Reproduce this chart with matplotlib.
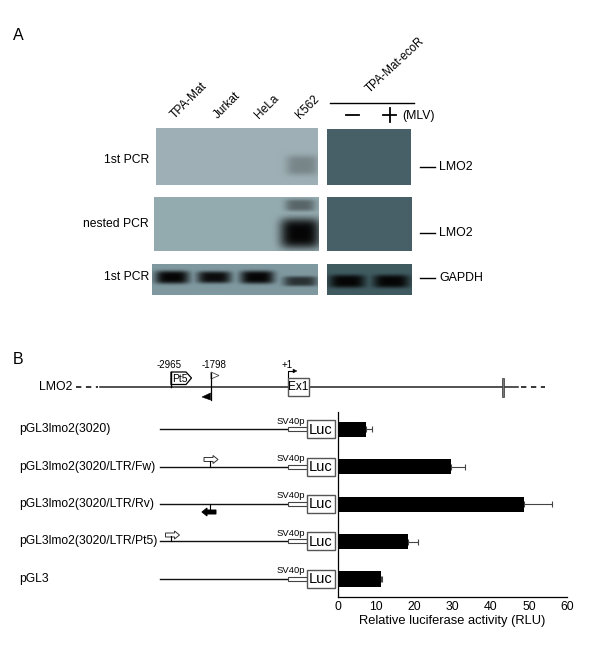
import matplotlib
matplotlib.use('Agg')
import matplotlib.pyplot as plt
from matplotlib.patches import FancyArrow, Polygon, Rectangle
import numpy as np

plt.rcParams['font.family'] = ['Liberation Sans', 'DejaVu Sans']

# bar chart values
constructs = ['pGL3lmo2(3020)', 'pGL3lmo2(3020/LTR/Fw)', 'pGL3lmo2(3020/LTR/Rv)',
              'pGL3lmo2(3020/LTR/Pt5)', 'pGL3']
rlu = [7.3, 29.6, 48.8, 18.3, 11.2]
rlu_err = [1.6, 3.6, 7.3, 2.6, 0.4]
rlu_ticks = [0, 10, 20, 30, 40, 50, 60]

lanes = ['TPA-Mat', 'Jurkat', 'HeLa', 'K562']
lane_x = [177, 220, 261, 302]

# gel panels: x0, x1, y0, y1, background grey-blue colour
gel_panels = [
    (156, 318, 128, 185, (0.62, 0.69, 0.71)),
    (154, 319, 197, 251, (0.58, 0.67, 0.69)),
    (152, 318, 264, 295, (0.50, 0.60, 0.63)),
    (327, 411, 129, 185, (0.28, 0.38, 0.41)),
    (327, 412, 197, 251, (0.28, 0.38, 0.41)),
    (327, 412, 264, 295, (0.25, 0.36, 0.38)),
]
# bands per panel: x centre, y centre, half width, half height, darkness
gel_bands = [
    [(302, 165, 16, 10, 0.25)],
    [(300, 205, 15, 6, 0.42), (300, 233, 20, 15, 1.0)],
    [(172, 277, 17, 6.5, 1.0), (214, 277, 17, 6, 0.95), (257, 277, 17, 6.5, 1.0),
     (300, 281, 17, 5, 0.7)],
    [],
    [],
    [(347, 281, 18, 6.5, 1.0), (391, 281, 18, 6.5, 1.0)],
]

line_ys = [429.3, 466.7, 504, 541.3, 578.7]


def gel_image(x0, x1, y0, y1, color, bands):
    xs, ys = np.meshgrid(np.arange(x0, x1, 0.5), np.arange(y0, y1, 0.5))
    dark = np.zeros_like(xs, dtype=float)
    for cx, cy, hw, hh, amount in bands:
        r = ((xs - cx) / hw) ** 4 + ((ys - cy) / hh) ** 4
        dark = np.maximum(dark, amount * np.exp(-r))
    img = np.dstack([c * (1 - dark) + 0.02 * dark for c in color])
    return img


fig = plt.figure(figsize=(6, 6.57), dpi=100)
ax = fig.add_axes([0, 0, 1, 1])
ax.axis('off')

for (x0, x1, y0, y1, color), bands in zip(gel_panels, gel_bands):
    ax.imshow(gel_image(x0, x1, y0, y1, color, bands), extent=(x0, x1, y1, y0),
              aspect='auto', interpolation='bilinear')
ax.set_xlim(0, 600)
ax.set_ylim(657, 0)

ax.text(13, 35, 'A', fontsize=11.5, va='center')
ax.text(13, 359, 'B', fontsize=11.5, va='center')

for name, x in zip(lanes, lane_x):
    ax.text(x, 121, name, fontsize=8.6, rotation=45, ha='left', va='bottom', rotation_mode='anchor')
ax.text(372, 95, 'TPA-Mat-ecoR', fontsize=8.3, rotation=43, ha='left', va='bottom', rotation_mode='anchor')
ax.plot([330, 414], [103, 103], color='black', lw=1)
ax.plot([346, 359], [115, 115], color='black', lw=1.3)
ax.plot([383, 396], [115, 115], color='black', lw=1.3)
ax.plot([389.5, 389.5], [108, 122], color='black', lw=1.3)
ax.text(402, 116, '(MLV)', fontsize=8.8, va='center')

for y, label in [(160, '1st PCR'), (224, 'nested PCR'), (277, '1st PCR')]:
    ax.text(149, y, label, fontsize=8.7, ha='right', va='center')
for y, label in [(167, 'LMO2'), (233, 'LMO2'), (278, 'GAPDH')]:
    ax.plot([420, 435], [y, y], color='black', lw=1)
    ax.text(439, y, label, fontsize=8.9, va='center')

# gene map
ax.text(39, 387, 'LMO2', fontsize=8.8, va='center')
ax.plot([76, 98], [387, 387], color='black', lw=1.1, dashes=(3.5, 3))
ax.plot([100, 518], [387, 387], color='#222222', lw=1.1)
ax.plot([521, 545], [387, 387], color='black', lw=1.1, dashes=(3.5, 3))
ax.add_patch(Rectangle((501.5, 378), 2.4, 19, fc='#777777', ec='#333333', lw=0.5, zorder=3))

ax.text(169, 365, '-2965', fontsize=7, ha='center', va='center')
ax.text(214, 365, '-1798', fontsize=7, ha='center', va='center')
ax.text(287, 365, '+1', fontsize=7, ha='center', va='center')

ax.add_patch(Polygon([(171, 372), (186, 372), (191.5, 378), (186, 384.5), (171, 384.5)],
                     fc='white', ec='black', lw=0.9, zorder=3))
ax.plot([171, 171], [372, 387], color='black', lw=1, zorder=3)
ax.text(172.5, 378.5, 'Pt5', fontsize=7.5, va='center', zorder=4)

ax.plot([210.5, 210.5], [373, 400], color='black', lw=0.9)
ax.add_patch(Polygon([(211, 372), (219, 375.5), (211, 379)], fc='white', ec='#444444', lw=0.6))
ax.add_patch(Polygon([(210.5, 393), (202, 397), (210.5, 400)], fc='black', ec='black', lw=0.4))

ax.add_patch(Rectangle((288, 378), 21, 18, fc='white', ec='#555555', lw=1, zorder=3))
ax.text(298.5, 387.5, 'Ex1', fontsize=8.5, ha='center', va='center', zorder=4)
ax.plot([288, 288, 293], [378, 371, 371], color='black', lw=0.8)
ax.add_patch(Polygon([(293, 369), (297, 371), (293, 373)], fc='black', ec='black', lw=0.3))

# constructs
for name, y in zip(constructs, line_ys):
    ax.text(19, y, name, fontsize=8.7, va='center')
    ax.plot([160, 288], [y, y], color='#111111', lw=1)
    ax.add_patch(Rectangle((287.5, y - 2), 19, 4, fc='white', ec='#444444', lw=0.8, zorder=3))
    ax.add_patch(Rectangle((306.5, y - 9), 28.5, 18, fc='white', ec='#555555', lw=1, zorder=3))
    ax.text(320.5, y + 0.5, 'Luc', fontsize=10.5, ha='center', va='center', zorder=4)
    ax.text(291, y - 8, 'SV40p', fontsize=6.8, ha='center', va='center', zorder=4)

# LTR arrows
ax.plot([210, 210], [461, 467], color='black', lw=0.8)
ax.add_patch(FancyArrow(204, 459.5, 14, 0, width=4, head_width=8, head_length=5,
                        length_includes_head=True, fc='white', ec='#333333', lw=0.7))
ax.plot([210, 210], [504, 510], color='black', lw=0.8)
ax.add_patch(FancyArrow(216, 512, -14, 0, width=4, head_width=8, head_length=5,
                        length_includes_head=True, fc='black', ec='black', lw=0.7))
ax.plot([171, 171], [536, 541], color='black', lw=0.8)
ax.add_patch(FancyArrow(165.5, 535, 14, 0, width=4, head_width=8, head_length=5,
                        length_includes_head=True, fc='white', ec='#333333', lw=0.7))

# bar chart
W, H = 600.0, 657.0
bar_ax = fig.add_axes([338 / W, 1 - 597 / H, 229 / W, (597 - 411.5) / H])
bar_ax.patch.set_alpha(0)
positions = np.arange(len(constructs))
bar_ax.barh(positions, rlu, height=0.41, color='black',
            xerr=[np.zeros(len(rlu)), rlu_err],
            error_kw=dict(ecolor='#444444', elinewidth=0.8, capsize=2, capthick=0.8))
bar_ax.set_xlim(0, 60)
bar_ax.set_ylim(4.48, -0.477)
bar_ax.set_yticks([])
bar_ax.set_xticks(rlu_ticks)
bar_ax.tick_params(axis='x', length=0, pad=3, labelsize=8.8)
bar_ax.set_xlabel('Relative luciferase activity (RLU)', fontsize=9.3, labelpad=1)
bar_ax.spines['top'].set_visible(False)
bar_ax.spines['right'].set_visible(False)
bar_ax.spines['left'].set_linewidth(0.9)
bar_ax.spines['bottom'].set_linewidth(0.9)

fig.savefig('out.png', dpi=100)
